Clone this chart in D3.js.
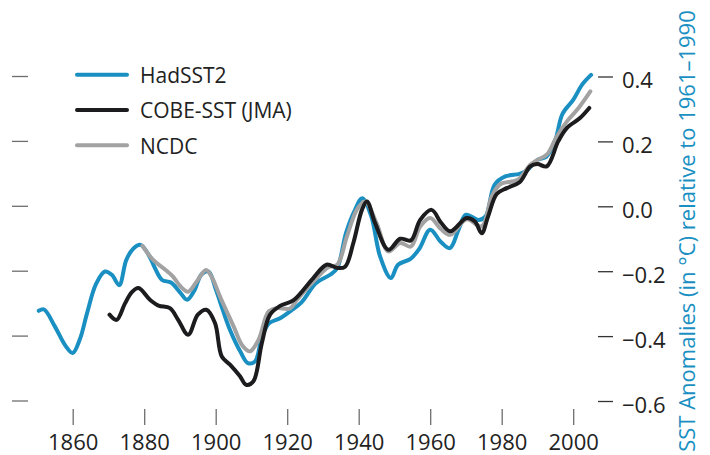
<!DOCTYPE html>
<meta charset="utf-8">
<style>
  body { margin: 0; background: #fff; }
  svg { display: block; font-family: "Open Sans", sans-serif; }
</style>
<svg width="710" height="455"></svg>
<script src="https://cdn.jsdelivr.net/npm/d3@7/dist/d3.min.js"></script>
<script>

// [year, anomaly in °C], smoothed series
var hadsst2 = [
  [1850.5, -0.322], [1852, -0.318], [1855, -0.37], [1858, -0.43], [1860, -0.452],
  [1862, -0.41], [1864, -0.33], [1866.5, -0.24], [1869, -0.201], [1871, -0.212],
  [1873, -0.243], [1875, -0.165], [1877, -0.13], [1879, -0.119], [1881.5, -0.155],
  [1883, -0.19], [1885, -0.227], [1887.5, -0.235], [1890, -0.265], [1892, -0.288],
  [1894, -0.26], [1896, -0.21], [1898, -0.201], [1900, -0.255], [1902, -0.32],
  [1904, -0.381], [1907, -0.45], [1909, -0.483], [1911, -0.478], [1913, -0.40],
  [1915, -0.36], [1918, -0.345], [1921, -0.322], [1924, -0.296], [1928, -0.237],
  [1932, -0.211], [1934, -0.19], [1936.5, -0.08], [1939, -0.01], [1941, 0.025],
  [1943.5, -0.03], [1946, -0.155], [1949, -0.221], [1951, -0.18], [1954.5, -0.162],
  [1957, -0.13], [1960, -0.072], [1963, -0.11], [1965.5, -0.129], [1968, -0.07],
  [1970, -0.026], [1973.5, -0.042], [1975.5, -0.031], [1978, 0.066], [1981, 0.092],
  [1985, 0.1], [1987, 0.11], [1990, 0.143], [1992.5, 0.153], [1995, 0.205],
  [1997, 0.285], [2000, 0.328], [2002.5, 0.375], [2005, 0.405]
];

var cobe = [
  [1870.3, -0.334], [1872.3, -0.35], [1874.6, -0.30], [1876.5, -0.265], [1878.4, -0.252],
  [1881.6, -0.288], [1884, -0.306], [1887.2, -0.314], [1889.5, -0.35], [1892.3, -0.396],
  [1895, -0.334], [1897.4, -0.319], [1899.8, -0.36], [1901.7, -0.463], [1904, -0.488],
  [1906.8, -0.524], [1908.5, -0.55], [1910.5, -0.54], [1912.9, -0.422], [1915.2, -0.334],
  [1918, -0.307], [1921.7, -0.29], [1927.3, -0.221], [1931, -0.18], [1934, -0.19],
  [1936.2, -0.186], [1938.5, -0.113], [1940.9, -0.011], [1942.3, 0.015], [1944.6, -0.052],
  [1948.3, -0.134], [1951.6, -0.10], [1954.6, -0.105], [1957.2, -0.042], [1960.4, -0.011],
  [1963, -0.05], [1965.6, -0.077], [1970.2, -0.036], [1972.5, -0.047], [1974.4, -0.083],
  [1976.2, -0.031], [1978.6, 0.038], [1981.4, 0.056], [1985, 0.074], [1988, 0.123],
  [1990, 0.13], [1992.6, 0.123], [1995.8, 0.2], [1998.2, 0.241], [2001.9, 0.272],
  [2004.5, 0.303]
];

var ncdc = [
  [1879.5, -0.122], [1882.5, -0.165], [1885.3, -0.19], [1888, -0.216], [1890, -0.245],
  [1892.3, -0.263], [1894.5, -0.235], [1897.3, -0.196], [1899, -0.22], [1901.2, -0.278],
  [1905, -0.37], [1907.5, -0.43], [1909.6, -0.447], [1912, -0.411], [1914.8, -0.324],
  [1917.1, -0.314], [1920.8, -0.315], [1922.6, -0.29], [1927.3, -0.232], [1931.5, -0.188],
  [1934, -0.18], [1936.7, -0.093], [1939.5, -0.01], [1941.8, 0.015], [1945, -0.052],
  [1948.3, -0.139], [1951.6, -0.113], [1954.6, -0.124], [1957.2, -0.062], [1960, -0.036],
  [1963, -0.07], [1965.6, -0.088], [1970.2, -0.04], [1974.4, -0.062], [1977.2, 0.03],
  [1979.6, 0.068], [1984.5, 0.082], [1988, 0.128], [1990, 0.143], [1992.6, 0.159],
  [1995.4, 0.215], [1998.2, 0.261], [2001.5, 0.303], [2004.8, 0.354]
];

var seriesNames = ["HadSST2", "COBE-SST (JMA)", "NCDC"];
var seriesColors = ["#1a8fc2", "#1c1c1e", "#a2a2a2"];
var xTicks = [1860, 1880, 1900, 1920, 1940, 1960, 1980, 2000];
var yTicks = [0.4, 0.2, 0.0, -0.2, -0.4, -0.6];

var svg = d3.select("svg");

var x = d3.scaleLinear().domain([1860, 2000]).range([72.7, 573.2]);
var y = d3.scaleLinear().domain([-0.6, 0.4]).range([401, 76.5]);

function fmt(v) {
    return d3.format(".1f")(v).replace("-", "\u2212");
}

// left tick marks, no labels
svg.append("g")
    .selectAll("line")
    .data(yTicks)
    .enter().append("line")
    .attr("x1", 12).attr("x2", 28)
    .attr("y1", function(d) { return y(d); })
    .attr("y2", function(d) { return y(d); })
    .attr("stroke", "#6e6e6e")
    .attr("stroke-width", 1.3);

// right axis
var right = svg.append("g")
    .attr("transform", "translate(598,0)")
    .call(d3.axisRight(y).tickValues(yTicks).tickSize(15).tickPadding(9).tickFormat(fmt));
right.select(".domain").remove();
right.selectAll(".tick line").attr("stroke", "#333").attr("stroke-width", 1.3);
right.selectAll(".tick text")
    .attr("dy", "0.52em")
    .attr("font-family", "Open Sans, sans-serif")
    .attr("font-size", 22)
    .attr("fill", "#222");

// bottom axis
var bottom = svg.append("g")
    .attr("transform", "translate(0,409)")
    .call(d3.axisBottom(x).tickValues(xTicks).tickSize(16).tickPadding(9).tickFormat(d3.format("d")));
bottom.select(".domain").remove();
bottom.selectAll(".tick line").attr("stroke", "#6e6e6e").attr("stroke-width", 1.3);
bottom.selectAll(".tick text")
    .attr("dy", "0.71em")
    .attr("font-family", "Open Sans, sans-serif")
    .attr("font-size", 22)
    .attr("fill", "#222");

// axis title
svg.append("text")
    .attr("transform", "translate(695,231) rotate(-90)")
    .attr("text-anchor", "middle")
    .attr("font-size", 22)
    .attr("fill", "#1a8fc2")
    .text("SST Anomalies (in \u00B0C) relative to 1961\u20131990");

var line = d3.line()
    .x(function(d) { return x(d[0]); })
    .y(function(d) { return y(d[1]); })
    .curve(d3.curveCatmullRom.alpha(0.5));

// blue under grey under black
var drawOrder = [[hadsst2, 0], [ncdc, 2], [cobe, 1]];
svg.append("g")
    .selectAll("path")
    .data(drawOrder)
    .enter().append("path")
    .attr("d", function(d) { return line(d[0]); })
    .attr("fill", "none")
    .attr("stroke", function(d) { return seriesColors[d[1]]; })
    .attr("stroke-width", 4)
    .attr("stroke-linejoin", "round")
    .attr("stroke-linecap", "round");

// legend
var legend = svg.append("g")
    .selectAll("g")
    .data(seriesNames)
    .enter().append("g")
    .attr("transform", function(d, i) { return "translate(77," + (74.7 + i * 35.3) + ")"; });

legend.append("line")
    .attr("x1", 0).attr("x2", 50)
    .attr("stroke", function(d, i) { return seriesColors[i]; })
    .attr("stroke-width", 4)
    .attr("stroke-linecap", "round");

legend.append("text")
    .attr("x", 63)
    .attr("dy", 8.3)
    .attr("font-size", 21)
    .attr("fill", "#222")
    .text(function(d) { return d; });

</script>
